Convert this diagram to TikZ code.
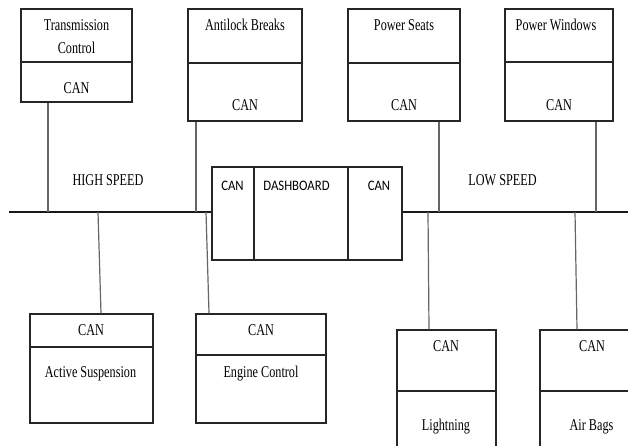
\documentclass[tikz,border=0pt]{standalone}
\usepackage{fontspec}
\setmainfont[FakeStretch=0.74]{Liberation Serif}
\newfontfamily\dashfont[FakeStretch=0.88]{Carlito}
\begin{document}
\begin{tikzpicture}[x=1pt,y=-1pt,
  box/.style={draw=black!85, line width=1.2pt, rectangle, inner sep=0pt},
  divl/.style={draw=black!85, line width=1.2pt},
  wire/.style={draw=black!60, line width=1.2pt},
  busl/.style={draw=black!90, line width=1.2pt},
  lbl/.style={inner sep=0pt, yshift=-2pt, font=\fontsize{16.5}{18}\selectfont, text height=0.66em, text depth=0pt},
  dlbl/.style={inner sep=0pt, yshift=-2pt, font=\dashfont\fontsize{14.5}{16}\selectfont, text height=0.64em, text depth=0pt}]
\clip (0,0) rectangle (628,446);
\fill[white] (0,0) rectangle (628,446);

% top boxes
\node[box, minimum width=111pt, minimum height=93pt] (tc) at (76.5,55.5) {};
\node[box, minimum width=114pt, minimum height=112pt] (ab) at (245,65) {};
\node[box, minimum width=112pt, minimum height=112pt] (ps) at (404,65) {};
\node[box, minimum width=108pt, minimum height=112pt] (pw) at (559,65) {};
% dashboard
\node[box, minimum width=190pt, minimum height=93pt] (db) at (307,213.5) {};
% bottom boxes
\node[box, minimum width=123pt, minimum height=109pt] (as) at (91.5,368.5) {};
\node[box, minimum width=130pt, minimum height=109pt] (ec) at (261,368.5) {};
\node[box, minimum width=99pt, minimum height=130pt] (lt) at (446.5,395) {};
\node[box, minimum width=100pt, minimum height=130pt] (ag) at (590,395) {};

% dividers
\draw[divl] (tc.west |- 0,62) -- (tc.east |- 0,62);
\draw[divl] (ab.west |- 0,63) -- (ab.east |- 0,63);
\draw[divl] (ps.west |- 0,63) -- (ps.east |- 0,63);
\draw[divl] (pw.west |- 0,62) -- (pw.east |- 0,62);
\draw[divl] (db.north -| 254,0) -- (db.south -| 254,0);
\draw[divl] (db.north -| 348,0) -- (db.south -| 348,0);
\draw[divl] (as.west |- 0,347) -- (as.east |- 0,347);
\draw[divl] (ec.west |- 0,355) -- (ec.east |- 0,355);
\draw[divl] (lt.west |- 0,391) -- (lt.east |- 0,391);
\draw[divl] (ag.west |- 0,391) -- (ag.east |- 0,391);

% texts
\node[lbl] (t1) at (76.5,25.5) {Transmission};
\node[lbl] (t2) at (76.5,48.5) {Control};
\node[lbl] (t3) at (76.5,88.5) {CAN};
\node[lbl] (t4) at (245,25.5) {Antilock Breaks};
\node[lbl] (t5) at (245,105.5) {CAN};
\node[lbl] (t6) at (404,25.5) {Power Seats};
\node[lbl] (t7) at (404,105.5) {CAN};
\node[lbl] (t8) at (556,25.5) {Power Windows};
\node[lbl] (t9) at (559,105.5) {CAN};
\node[dlbl] (d1) at (232.5,185) {CAN};
\node[dlbl] (d2) at (296.5,185) {DASHBOARD};
\node[dlbl] (d3) at (379,185) {CAN};
\node[lbl] (hs) at (108,180.5) {HIGH SPEED};
\node[lbl] (ls) at (502.5,180.5) {LOW SPEED};
\node[lbl] (b1) at (91,330.5) {CAN};
\node[lbl] (b2) at (90.5,372) {Active Suspension};
\node[lbl] (b3) at (261,330.5) {CAN};
\node[lbl] (b4) at (261,372) {Engine Control};
\node[lbl] (b5) at (446,346) {CAN};
\node[lbl] (b6) at (446,425.5) {Lightning};
\node[lbl] (b7) at (592,346) {CAN};
\node[lbl] (b8) at (591.5,425.5) {Air Bags};

% bus
\coordinate (busL) at (9,212);
\coordinate (busR) at (640,212);
\draw[busl] (busL) -- (busL -| db.west);
\draw[busl] (db.east |- busL) -- (busR);

% taps
\coordinate (k3) at (98,212);
\coordinate (k4) at (206,212);
\coordinate (k7) at (428,212);
\coordinate (k8) at (575,212);

\draw[wire] ([xshift=-28.5pt]tc.south) coordinate (c1) -- (c1 |- busL);
\draw[wire] ([xshift=-49pt]ab.south) coordinate (c2) -- (c2 |- busL);
\draw[wire] ([xshift=35pt]ps.south) coordinate (c5) -- (c5 |- busL);
\draw[wire] ([xshift=37pt]pw.south) coordinate (c6) -- (c6 |- busL);
\draw[wire] (k3) -- ([xshift=9.5pt]as.north);
\draw[wire] (k4) -- ([xshift=-52pt]ec.north);
\draw[wire] (k7) -- ([xshift=-17.5pt]lt.north);
\draw[wire] (k8) -- ([xshift=-13pt]ag.north);
\end{tikzpicture}
\end{document}
